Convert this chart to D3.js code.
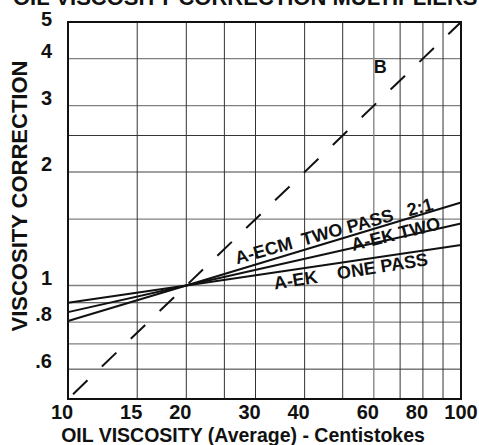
<!DOCTYPE html>
<html>
<head>
<meta charset="utf-8">
<script src="https://cdn.jsdelivr.net/npm/d3@7"></script>
<style>
  html, body { margin: 0; padding: 0; background: #fff; }
  svg { display: block; font-family: "Liberation Sans", Arial, sans-serif; font-weight: bold; }
</style>
</head>
<body>
<svg id="chart" width="479" height="445"></svg>
<script>
// ---- data ----
const xTicks = [10, 15, 20, 30, 40, 60, 80, 100];
const yTicks = [0.6, 0.8, 1, 2, 3, 4, 5];
const yTickLabels = [".6", ".8", "1", "2", "3", "4", "5"];
const xGrid = [15, 20, 25, 30, 40, 50, 60, 70, 80, 90];
const yGrid = [0.6, 0.7, 0.8, 0.9, 1, 1.5, 2, 2.5, 3, 4];
const seriesNames = ["A-ECM  TWO PASS   2:1", "A-EK TWO", "A-EK    ONE PASS"];
const viscosity = [10, 20, 100];
const ecmTwoPass = [0.805, 1.0, 1.66];
const ekTwo = [0.85, 1.0, 1.46];
const ekOnePass = [0.90, 1.0, 1.28];
const refLineX = [10, 100];
const refLineY = [0.5, 5];
const refLineName = "B";
const chartTitle = "OIL VISCOSITY CORRECTION MULTIPLIERS";
const xTitle = "OIL VISCOSITY (Average) - Centistokes";
const yTitle = "VISCOSITY CORRECTION";

// ---- layout ----
const M = { left: 68, right: 461, top: 22, bottom: 399 };
const svg = d3.select("#chart");

const x = d3.scaleLog().domain([10, 100]).range([M.left, M.right]);
const y = d3.scaleLog().domain([0.5, 5]).range([M.bottom, M.top]);

const grayGridY = new Set([0.7, 0.8, 1, 1.5, 2, 3, 4]);
const grayGridX = new Set([60]);

// grid
svg.append("g").selectAll("line").data(yGrid).join("line")
  .attr("x1", M.left).attr("x2", M.right)
  .attr("y1", d => y(d)).attr("y2", d => y(d))
  .attr("stroke", d => grayGridY.has(d) ? "#808080" : "#333")
  .attr("stroke-width", d => grayGridY.has(d) ? 1.3 : 1);
svg.append("g").selectAll("line").data(xGrid).join("line")
  .attr("y1", M.top).attr("y2", M.bottom)
  .attr("x1", d => x(d)).attr("x2", d => x(d))
  .attr("stroke", d => grayGridX.has(d) ? "#808080" : "#333")
  .attr("stroke-width", d => grayGridX.has(d) ? 1.3 : 1);

// clip
svg.append("clipPath").attr("id", "plot").append("rect")
  .attr("x", M.left).attr("y", M.top).attr("width", M.right - M.left).attr("height", M.bottom - M.top);

// reference dashed line B
const refPts = refLineX.map((v, i) => [v, refLineY[i]]);
const line = d3.line().x(d => x(d[0])).y(d => y(d[1]));
svg.append("path").datum(refPts)
  .attr("d", line).attr("fill", "none").attr("stroke", "#111")
  .attr("stroke-width", 2).attr("stroke-dasharray", "20 20").attr("stroke-dashoffset", 33)
  .attr("clip-path", "url(#plot)");

// solid series lines
const series = [ecmTwoPass, ekTwo, ekOnePass].map(vals => viscosity.map((v, i) => [v, vals[i]]));
svg.append("g").selectAll("path").data(series).join("path")
  .attr("d", line).attr("fill", "none").attr("stroke", "#111").attr("stroke-width", 2);

// series labels (placed at a viscosity along each line, offset in px, rotated)
const labelPlace = [
  { at: 26.9, off: -6, ang: -15.5 },
  { at: 53.1, off: 3, ang: -14 },
  { at: 33.6, off: 17, ang: -9 }
];
series.forEach((pts, i) => {
  const p = labelPlace[i];
  const xs = pts.map(d => d[0]), ys = pts.map(d => d[1]);
  const seg = p.at <= xs[1] ? 0 : 1;
  const t = (Math.log(p.at) - Math.log(xs[seg])) / (Math.log(xs[seg + 1]) - Math.log(xs[seg]));
  const v = Math.exp(Math.log(ys[seg]) + t * (Math.log(ys[seg + 1]) - Math.log(ys[seg])));
  svg.append("text")
    .attr("transform", `translate(${x(p.at)},${y(v) + p.off}) rotate(${p.ang})`)
    .attr("font-size", 18).attr("fill", "#111")
    .style("white-space", "pre")
    .text(seriesNames[i]);
});

// B label
svg.append("text")
  .attr("x", x(60)).attr("y", y(2.0) - 99)
  .attr("font-size", 18).attr("fill", "#111")
  .text(refLineName);

// border
svg.append("rect")
  .attr("x", M.left).attr("y", M.top).attr("width", M.right - M.left).attr("height", M.bottom - M.top)
  .attr("fill", "none").attr("stroke", "#111").attr("stroke-width", 2);

// y tick labels
svg.append("g").selectAll("text").data(yTicks).join("text")
  .attr("x", 52).attr("y", d => Math.max(y(d) - 1, 26))
  .attr("text-anchor", "end").attr("font-size", 20).attr("fill", "#111")
  .text((d, i) => yTickLabels[i]);

// x tick labels
svg.append("g").selectAll("text").data(xTicks).join("text")
  .attr("x", d => x(d) + (d === 100 ? 0 : -6)).attr("y", 419)
  .attr("text-anchor", "middle").attr("font-size", 20).attr("fill", "#111")
  .text(d => d);

// titles
svg.append("text").attr("x", 13).attr("y", 5).attr("font-size", 22).attr("fill", "#111").text(chartTitle);
svg.append("text").attr("x", 243).attr("y", 441.5).attr("text-anchor", "middle")
  .attr("font-size", 19.5).attr("fill", "#111").text(xTitle);
svg.append("text").attr("transform", "translate(27,196) rotate(-90)")
  .attr("text-anchor", "middle").attr("font-size", 22).attr("fill", "#111").text(yTitle);
</script>
</body>
</html>
